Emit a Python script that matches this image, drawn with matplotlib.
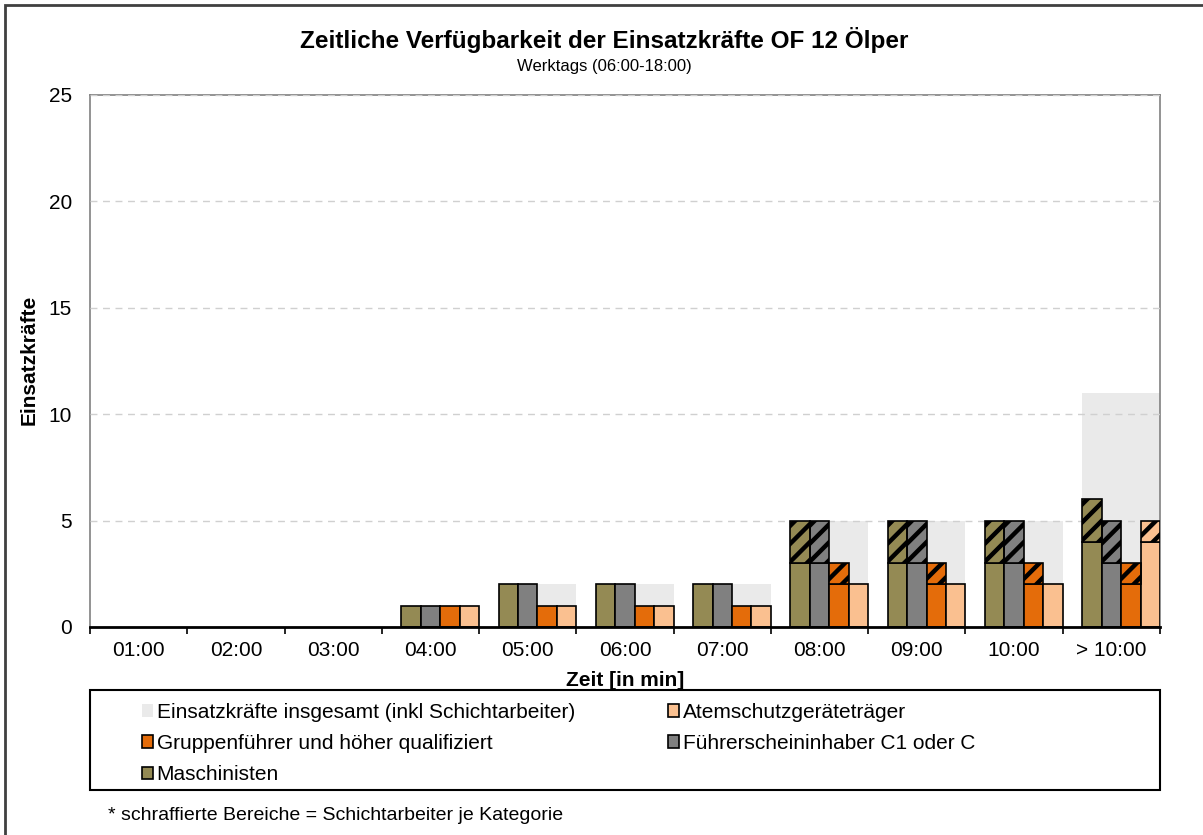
import numpy as np
import matplotlib
matplotlib.use('Agg')
import matplotlib.pyplot as plt
from matplotlib.patches import Rectangle, Patch

plt.rcParams['font.family'] = ['Liberation Sans', 'DejaVu Sans']

zeiten = ['01:00', '02:00', '03:00', '04:00', '05:00', '06:00', '07:00',
          '08:00', '09:00', '10:00', '> 10:00']

# Gesamt inkl. Schichtarbeiter
gesamt = [0, 0, 0, 1, 2, 2, 2, 5, 5, 5, 11]
# Kategorien: ohne Schichtarbeiter / Schichtarbeiter (schraffiert)
maschinisten = [0, 0, 0, 1, 2, 2, 2, 3, 3, 3, 4]
maschinisten_schicht = [0, 0, 0, 0, 0, 0, 0, 2, 2, 2, 2]
fuehrerschein = [0, 0, 0, 1, 2, 2, 2, 3, 3, 3, 3]
fuehrerschein_schicht = [0, 0, 0, 0, 0, 0, 0, 2, 2, 2, 2]
gruppenfuehrer = [0, 0, 0, 1, 1, 1, 1, 2, 2, 2, 2]
gruppenfuehrer_schicht = [0, 0, 0, 0, 0, 0, 0, 1, 1, 1, 1]
atemschutz = [0, 0, 0, 1, 1, 1, 1, 2, 2, 2, 4]
atemschutz_schicht = [0, 0, 0, 0, 0, 0, 0, 0, 0, 0, 1]

c_gesamt = '#EAEAEA'
c_masch = '#948A54'
c_fuehr = '#808080'
c_grupp = '#E46C0A'
c_atem = '#FAC090'

W, H = 1203, 835
fig = plt.figure(figsize=(W / 100, H / 100), dpi=100)
ax = fig.add_axes([90/W, 1 - 627/H, 1070/W, 532/H])

x = np.arange(len(zeiten))
w = 0.2
start = x - 0.3  # bar group sits right-aligned in each category

ax.set_xlim(-0.5, len(zeiten) - 0.5)
ax.set_ylim(0, 25)

ax.bar(start, gesamt, width=0.8, align='edge', color=c_gesamt, zorder=1)

# pixels per data unit, used for the 45 degree hatch stripes
px_x = 1070 / len(zeiten)
px_y = 532 / 25
period = 18.0  # stripe spacing in px (horizontal)


def hatch(rect):
    # thick black diagonal stripes, clipped to the bar
    x0, y0 = rect.get_x(), rect.get_y()
    bw, bh = rect.get_width(), rect.get_height()
    wpx, hpx = bw * px_x, bh * px_y
    cx, cy = wpx / 2, hpx / 2
    for off in np.arange(-(wpx + hpx), wpx + hpx, period):
        xs = np.array([-hpx, wpx + hpx])
        ys = xs - (cx - cy + off)
        ln, = ax.plot(x0 + xs / px_x, y0 + ys / px_y, color='black',
                      linewidth=3.2, solid_capstyle='butt', zorder=3.5)
        ln.set_clip_path(rect)


series = [(maschinisten, maschinisten_schicht, c_masch),
          (fuehrerschein, fuehrerschein_schicht, c_fuehr),
          (gruppenfuehrer, gruppenfuehrer_schicht, c_grupp),
          (atemschutz, atemschutz_schicht, c_atem)]
for k, (base, schicht, col) in enumerate(series):
    pos = start + k * w
    base = np.array(base)
    schicht = np.array(schicht)
    m = base > 0
    ax.bar(pos[m], base[m], width=w, align='edge', color=col,
           edgecolor='black', linewidth=1.2, zorder=3)
    m2 = schicht > 0
    bars = ax.bar(pos[m2], schicht[m2], bottom=base[m2], width=w, align='edge',
                  color=col, linewidth=0, zorder=3)
    for r in bars:
        hatch(r)
    # outline on top of the stripes
    ax.bar(pos[m2], schicht[m2], bottom=base[m2], width=w, align='edge',
           fill=False, edgecolor='black', linewidth=1.2, zorder=4)

ax.set_xlim(-0.5, len(zeiten) - 0.5)
ax.set_ylim(0, 25)
ax.set_yticks([0, 5, 10, 15, 20, 25])
ax.yaxis.grid(True, linestyle=(0, (5, 4)), color='#D0D0D0', linewidth=1.0)
ax.set_axisbelow(False)
for gl in ax.get_ygridlines():
    gl.set_zorder(2)
ax.tick_params(axis='y', length=0, pad=13, labelsize=15)

ax.set_xticks(x)
ax.set_xticklabels(zeiten)
ax.set_xticks(np.arange(len(zeiten) + 1) - 0.5, minor=True)
ax.tick_params(axis='x', which='major', length=0, pad=10, labelsize=15)
ax.tick_params(axis='x', which='minor', length=5, width=1.2, color='black')

for s in ['left', 'top', 'right']:
    ax.spines[s].set_color('#808080')
    ax.spines[s].set_linewidth(1.2)
ax.spines['bottom'].set_color('black')
ax.spines['bottom'].set_linewidth(2)
ax.spines['bottom'].set_zorder(5)

fig.text(625/W, 1 - 680/H, 'Zeit [in min]', ha='center', va='center',
         fontsize=15, fontweight='bold')
fig.text(29/W, 1 - 360/H, 'Einsatzkräfte', ha='center', va='center',
         rotation=90, fontsize=15, fontweight='bold')

fig.text(604/W, 1 - 40/H, 'Zeitliche Verfügbarkeit der Einsatzkräfte OF 12 Ölper',
         ha='center', va='center', fontsize=17.5, fontweight='bold')
fig.text(604/W, 1 - 67/H, 'Werktags (06:00-18:00)', ha='center', va='center',
         fontsize=12)

# legend box
fig.add_artist(Rectangle((90/W, 1 - 790/H), 1070/W, 100/H,
                         transform=fig.transFigure, fill=False,
                         edgecolor='black', linewidth=1.5))


def h(col, edge='black'):
    return Patch(facecolor=col, edgecolor=edge, linewidth=1.2)


col1 = [(h(c_gesamt, 'none'), 'Einsatzkräfte insgesamt (inkl Schichtarbeiter)'),
        (h(c_grupp), 'Gruppenführer und höher qualifiziert'),
        (h(c_masch), 'Maschinisten')]
col2 = [(h(c_atem), 'Atemschutzgeräteträger'),
        (h(c_fuehr), 'Führerscheininhaber C1 oder C')]
for items, xpos in [(col1, 142/W), (col2, 668/W)]:
    fig.legend([i[0] for i in items], [i[1] for i in items],
               loc='upper left', bbox_to_anchor=(xpos, 1 - 703/H),
               frameon=False, fontsize=15, handlelength=0.55, handleheight=0.55,
               handletextpad=0.15, labelspacing=0.58, borderpad=0, borderaxespad=0)

fig.text(108/W, 1 - 815/H, '* schraffierte Bereiche = Schichtarbeiter je Kategorie',
         ha='left', va='center', fontsize=14)

# outer chart border (left/top visible)
fig.add_artist(Rectangle((5/W, -0.1), 1.2, 1 - 5/H + 0.1,
                         transform=fig.transFigure, fill=False,
                         edgecolor='#404040', linewidth=2))

fig.savefig('out.png', dpi=100)
